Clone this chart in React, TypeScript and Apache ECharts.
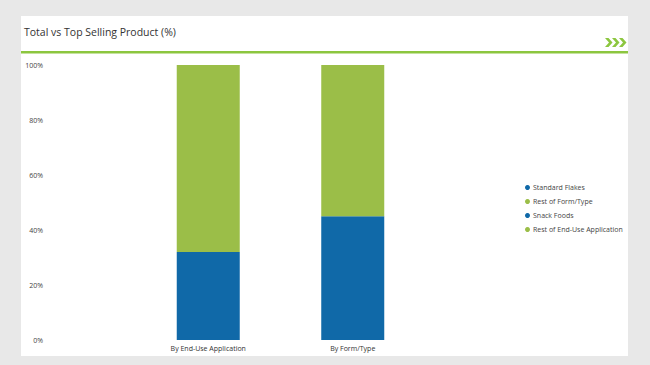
import React, { useEffect, useRef } from "react";
import * as echarts from "echarts";

const categories = ["By End-Use Application", "By Form/Type"];
const snackFoods = [32, null];
const restEndUse = [68, null];
const standardFlakes = [null, 45];
const restFormType = [null, 55];
const yTicks = [0, 20, 40, 60, 80, 100];
const legendOrder = ["Standard Flakes", "Rest of Form/Type", "Snack Foods", "Rest of End-Use Application"];

const BLUE = "#1069a8";
const GREEN = "#9bbe48";
const FONT = "'Open Sans', 'Noto Sans', sans-serif";

function chevron(x: number, y: number) {
  return {
    type: "polygon",
    shape: {
      points: [
        [x, y],
        [x + 3.5, y],
        [x + 7.5, y + 4.5],
        [x + 3.5, y + 9],
        [x, y + 9],
        [x + 4, y + 4.5],
      ],
    },
    style: { fill: "#8cc63f" },
  };
}

export default function App() {
  const ref = useRef<HTMLDivElement>(null);
  useEffect(() => {
    if (!ref.current) return;
    const chart = echarts.init(ref.current, undefined, { renderer: "svg" });
    const mk = (name: string, data: (number | null)[], color: string) => ({
      name,
      type: "bar",
      stack: "total",
      data,
      barWidth: "43.6%",
      itemStyle: { color },
      emphasis: { disabled: true },
    });
    chart.setOption({
      animation: false,
      backgroundColor: "#e8e8e8",
      textStyle: { fontFamily: FONT },
      graphic: [
        { type: "rect", shape: { x: 21, y: 16, width: 607, height: 340 }, style: { fill: "#ffffff" }, z: -10 },
        { type: "rect", shape: { x: 21, y: 51, width: 607, height: 2.5 }, style: { fill: "#8cc63f" } },
        {
          type: "text",
          x: 24,
          y: 32,
          style: { text: "Total vs Top Selling Product (%)", fontSize: 10.5, fontFamily: FONT, fill: "#333", verticalAlign: "middle" },
        },
        chevron(605, 38),
        chevron(612, 38),
        chevron(619, 38),
      ],
      grid: { left: 136, width: 289, top: 65, height: 275 },
      legend: {
        orient: "vertical",
        left: 520,
        top: 179,
        itemGap: 7,
        itemWidth: 5,
        itemHeight: 5,
        icon: "circle",
        data: legendOrder,
        textStyle: { fontSize: 7, color: "#444", fontFamily: FONT, padding: [0, 0, 0, -2] },
        selectedMode: false,
      },
      xAxis: {
        type: "category",
        data: categories,
        axisLine: { show: false },
        axisTick: { show: false },
        axisLabel: { fontSize: 7, color: "#333", margin: 5, fontFamily: FONT },
      },
      yAxis: {
        type: "value",
        min: 0,
        max: 100,
        interval: 20,
        splitLine: { show: false },
        axisLine: { show: false },
        axisTick: { show: false },
        axisLabel: {
          formatter: (v: number) => (yTicks.includes(v) ? v + "%" : ""),
          fontSize: 7,
          color: "#444",
          margin: 93,
          fontFamily: FONT,
        },
      },
      series: [
        mk("Snack Foods", snackFoods, BLUE),
        mk("Rest of End-Use Application", restEndUse, GREEN),
        mk("Standard Flakes", standardFlakes, BLUE),
        mk("Rest of Form/Type", restFormType, GREEN),
      ],
    });
    return () => chart.dispose();
  }, []);
  return <div ref={ref} style={{ position: "fixed", left: 0, top: 0, width: 650, height: 365 }} />;
}
